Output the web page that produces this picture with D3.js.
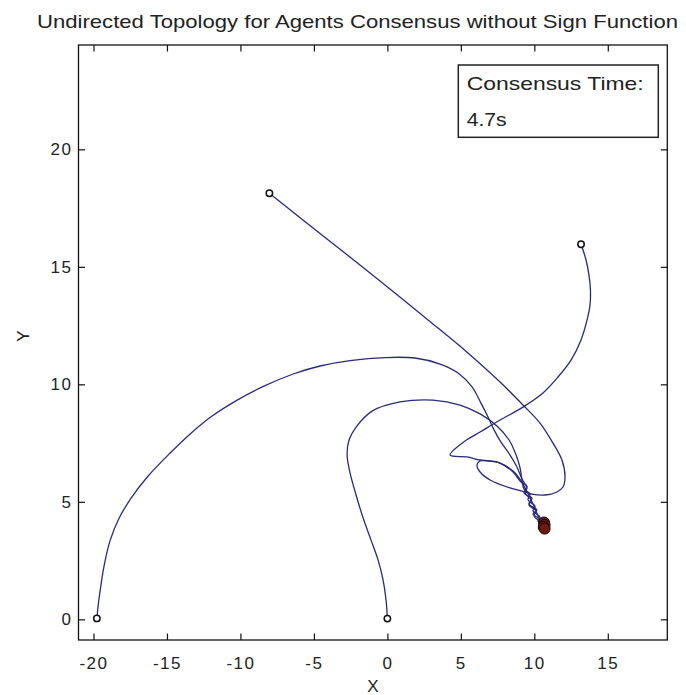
<!DOCTYPE html>
<html>
<head>
<meta charset="utf-8">
<script src="https://cdn.jsdelivr.net/npm/d3@7"></script>
<style>
  body { margin: 0; background: #fff; }
  text { font-family: "Liberation Sans", Arial, sans-serif; fill: #222; }
</style>
</head>
<body>
<svg id="chart" width="686" height="695"></svg>
<script>
// tick values
const xTicks = [-20, -15, -10, -5, 0, 5, 10, 15];
const yTicks = [0, 5, 10, 15, 20];

// agent trajectories [x, y]
const agent1 = [
  [-19.77, 0.04], [-19.67, 0.65], [-19.54, 1.25], [-19.27, 2.31], [-18.86, 3.37],
  [-18.25, 4.31], [-17.44, 5.16], [-16.28, 6.1], [-14.78, 7.08], [-13.42, 7.89],
  [-11.93, 8.65], [-10.22, 9.33], [-8.52, 9.89], [-6.41, 10.44], [-4.58, 10.78],
  [-2.54, 11.01], [-0.16, 11.14], [1.88, 11.12], [3.59, 10.86], [4.81, 10.48],
  [5.76, 9.89], [6.37, 9.2], [6.85, 8.61],
  [7.26, 8.06], [7.73, 7.54], [8.35, 6.99], [8.82, 6.48], [9.16, 5.97],
  [9.5, 5.59], [9.37, 5.37], [9.78, 5.08], [9.64, 4.86], [10.12, 4.61],
  [9.98, 4.4], [10.39, 4.18], [10.66, 4.12]
];
const agent2 = [
  [0.0, 0.03], [-0.09, 0.82], [-0.29, 1.67], [-0.63, 2.52], [-1.11, 3.37],
  [-1.65, 4.31], [-2.13, 5.29], [-2.54, 6.23], [-2.74, 6.99], [-2.61, 7.63],
  [-2.13, 8.18], [-1.04, 8.86], [0.86, 9.25], [3.11, 9.33], [4.95, 9.12],
  [6.31, 8.74], [7.46, 8.23], [8.28, 7.63], [8.76, 6.99], [9.03, 6.44],
  [9.16, 5.93], [9.3, 5.54], [9.71, 5.33], [9.57, 5.08], [10.05, 4.82],
  [9.91, 4.61], [10.39, 4.35], [10.25, 4.18], [10.7, 4.02]
];
const agent3 = [
  [-8.03, 18.13], [-5.94, 17.09], [-3.22, 15.75], [-0.5, 14.4], [2.77, 12.74],
  [5.42, 11.37], [7.67, 10.1], [9.23, 9.12], [10.39, 8.35], [11.27, 7.5],
  [11.88, 6.78], [12.09, 6.06], [11.95, 5.63], [11.54, 5.42], [10.73, 5.29],
  [9.84, 5.33], [9.16, 5.46], [8.35, 5.59], [6.99, 5.93], [6.31, 6.27],
  [6.1, 6.57], [6.31, 6.74], [6.99, 6.74], [7.67, 6.65], [8.55, 6.27],
  [9.1, 5.84], [9.5, 5.67], [9.3, 5.37], [9.84, 5.16], [9.64, 4.91],
  [10.18, 4.65], [9.91, 4.48], [10.46, 4.23], [10.64, 3.93]
];
const agent4 = [
  [13.18, 15.96], [13.52, 15.29], [13.72, 14.65], [13.82, 14.01], [13.79, 13.37],
  [13.59, 12.74], [13.18, 11.89], [12.5, 11.03], [11.61, 10.31], [10.59, 9.63],
  [9.23, 9.03], [7.67, 8.48], [6.31, 7.97], [5.29, 7.59], [4.27, 6.99],
  [5.42, 6.91], [6.31, 6.78], [7.67, 6.65], [8.55, 6.31], [9.1, 5.89],
  [9.44, 5.5], [9.64, 5.29], [9.78, 5.08], [9.98, 4.82], [10.12, 4.61],
  [10.25, 4.4], [10.46, 4.18], [10.7, 3.86]
];
const agents = [agent1, agent2, agent3, agent4];

const titleText = "Undirected Topology for Agents Consensus without Sign Function";
const legendLines = ["Consensus Time:", "4.7s"];

const svg = d3.select("#chart");
const plotLeft = 78.5, plotRight = 667.3, plotTop = 45, plotBottom = 640;

const x = d3.scaleLinear().domain([-21.02, 19.05]).range([plotLeft, plotRight]);
const y = d3.scaleLinear().domain([-0.88, 24.44]).range([plotBottom, plotTop]);

// trajectories
const line = d3.line()
  .x((d) => x(d[0]))
  .y((d) => y(d[1]))
  .curve(d3.curveCatmullRom.alpha(0.5));

svg.append("g")
  .selectAll("path")
  .data(agents)
  .enter()
  .append("path")
  .attr("d", line)
  .attr("fill", "none")
  .attr("stroke", "#2a2a7c")
  .attr("stroke-width", 1.3);

// start markers
svg.append("g")
  .selectAll("circle")
  .data(agents)
  .enter()
  .append("circle")
  .attr("cx", (d) => x(d[0][0]))
  .attr("cy", (d) => y(d[0][1]))
  .attr("r", 3.2)
  .attr("fill", "#fff")
  .attr("stroke", "#111")
  .attr("stroke-width", 1.5);

// end markers
svg.append("g")
  .selectAll("circle")
  .data(agents)
  .enter()
  .append("circle")
  .attr("cx", (d) => x(d[d.length - 1][0]))
  .attr("cy", (d) => y(d[d.length - 1][1]))
  .attr("r", 5.5)
  .attr("fill", "#6b1a10")
  .attr("stroke", "#1a0805")
  .attr("stroke-width", 1);

// axes (ticks point inward, plain hyphen for minus like MATLAB)
const fmt = (d) => String(d);
const styleAxis = (g) => {
  g.select(".domain").remove();
  g.selectAll(".tick line").attr("stroke", "#111").attr("stroke-width", 1.2);
  g.selectAll("text")
    .attr("font-size", 17)
    .attr("letter-spacing", 1.5)
    .attr("fill", "#222");
};

svg.append("g")
  .attr("transform", `translate(0,${plotBottom})`)
  .call(d3.axisBottom(x).tickValues(xTicks).tickFormat(fmt).tickSizeInner(-6.5).tickSizeOuter(0).tickPadding(17))
  .call(styleAxis);

svg.append("g")
  .attr("transform", `translate(0,${plotTop})`)
  .call(d3.axisTop(x).tickValues(xTicks).tickSizeInner(-6.5).tickSizeOuter(0).tickFormat(""))
  .call(styleAxis);

svg.append("g")
  .attr("transform", `translate(${plotLeft},0)`)
  .call(d3.axisLeft(y).tickValues(yTicks).tickFormat(fmt).tickSizeInner(-6.5).tickSizeOuter(0).tickPadding(6))
  .call(styleAxis);

svg.append("g")
  .attr("transform", `translate(${plotRight},0)`)
  .call(d3.axisRight(y).tickValues(yTicks).tickSizeInner(-6.5).tickSizeOuter(0).tickFormat(""))
  .call(styleAxis);

// frame
svg.append("rect")
  .attr("x", plotLeft)
  .attr("y", plotTop)
  .attr("width", plotRight - plotLeft)
  .attr("height", plotBottom - plotTop)
  .attr("fill", "none")
  .attr("stroke", "#111")
  .attr("stroke-width", 1.3);

// axis labels
svg.append("text")
  .attr("x", (plotLeft + plotRight) / 2)
  .attr("y", 692)
  .attr("text-anchor", "middle")
  .attr("font-size", 17)
  .text("X");

svg.append("text")
  .attr("transform", "translate(29,336) rotate(-90)")
  .attr("text-anchor", "middle")
  .attr("font-size", 17)
  .text("Y");

// title
svg.append("text")
  .attr("x", 37)
  .attr("y", 28)
  .attr("font-size", 19)
  .attr("textLength", 641)
  .attr("lengthAdjust", "spacingAndGlyphs")
  .text(titleText);

// consensus time box
svg.append("rect")
  .attr("x", 458.3)
  .attr("y", 65)
  .attr("width", 200)
  .attr("height", 72.3)
  .attr("fill", "#fff")
  .attr("stroke", "#222")
  .attr("stroke-width", 1.5);

svg.append("g")
  .selectAll("text")
  .data(legendLines)
  .enter()
  .append("text")
  .attr("x", 466.7)
  .attr("y", (d, i) => 90 + i * 36)
  .attr("font-family", "'Open Sans', sans-serif")
  .attr("font-size", 19)
  .attr("textLength", (d, i) => (i === 0 ? 177 : 40))
  .attr("lengthAdjust", "spacingAndGlyphs")
  .text((d) => d);
</script>
</body>
</html>
